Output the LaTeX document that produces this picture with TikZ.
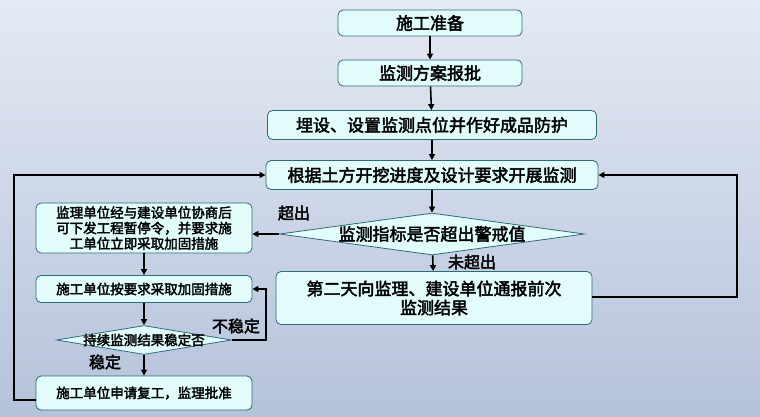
\documentclass[tikz,border=0pt]{standalone}
\usepackage{fontspec}
\setmainfont{Noto Sans CJK SC}[FakeBold=2.5]
\usetikzlibrary{shapes.geometric,arrows.meta}
\definecolor{boxFill}{HTML}{E2FBFB}
\definecolor{boxLine}{HTML}{2E6B78}
\definecolor{bgTop}{HTML}{E4EAF4}
\definecolor{bgBot}{HTML}{B4C2DA}
\begin{document}
\begin{tikzpicture}[x=1pt, y=-1pt,
  boxStyle/.style={rectangle, rounded corners=5pt, draw=boxLine, fill=boxFill, line width=0.8pt, inner sep=1pt, font=\fontsize{17}{19}\selectfont},
  smallStyle/.style={boxStyle, font=\fontsize{13.5}{15.5}\selectfont},
  decStyle/.style={diamond, aspect=7, draw=boxLine, fill=boxFill, line width=0.8pt, inner sep=0pt},
  lineStyle/.style={line width=1.6pt, -{Triangle[length=6pt,width=6pt]}},
  labelStyle/.style={font=\fontsize{16}{18}\selectfont}]
\shade[top color=bgTop, bottom color=bgBot] (0,0) rectangle (760,416);
\useasboundingbox (0,0) rectangle (760,416);
\node[boxStyle, minimum width=184pt, minimum height=26pt] (prep) at (430,23) {施工准备};
\node[boxStyle, minimum width=184pt, minimum height=26pt] (plan) at (430,73) {监测方案报批};
\node[boxStyle, minimum width=329pt, minimum height=29pt] (bury) at (432,125) {埋设、设置监测点位并作好成品防护};
\node[boxStyle, minimum width=332pt, minimum height=29pt] (monitor) at (432,175) {根据土方开挖进度及设计要求开展监测};
\node[decStyle, minimum width=305pt, minimum height=42pt] (check) at (432,234) {};
\node[font=\fontsize{17}{19}\selectfont] at (check) {监测指标是否超出警戒值};
\node[boxStyle, minimum width=316pt, minimum height=53pt, align=center] (report) at (434,298) {第二天向监理、建设单位通报前次\\监测结果};
\node[smallStyle, minimum width=216pt, minimum height=50pt, align=center] (stop) at (144,228) {监理单位经与建设单位协商后\\可下发工程暂停令，并要求施\\工单位立即采取加固措施};
\node[smallStyle, minimum width=216pt, minimum height=27pt] (fix) at (144,289) {施工单位按要求采取加固措施};
\node[decStyle, minimum width=175pt, minimum height=29pt] (stable) at (144,340) {};
\node[font=\fontsize{13.5}{15.5}\selectfont] at (stable) {持续监测结果稳定否};
\node[smallStyle, minimum width=216pt, minimum height=34pt] (resume) at (144,393) {施工单位申请复工，监理批准};
\coordinate (leftTop) at (14,175);
\coordinate (leftBot) at (14,400);
\coordinate (rightTop) at (737,175);
\coordinate (rightBot) at (737,297);
\coordinate (backTurn) at (266,340);
\coordinate (backTop) at (266,289);
\draw[lineStyle] (prep) -- (plan);
\draw[lineStyle] (plan) -- (bury);
\draw[lineStyle] (bury) -- (monitor);
\draw[lineStyle] (monitor) -- (check);
\draw[lineStyle] (check) -- (report);
\draw[lineStyle] (check.west) -- (stop.east |- check.west);
\draw[lineStyle] (stop) -- (fix);
\draw[lineStyle] (fix) -- (stable);
\draw[lineStyle] (stable) -- (resume);
\draw[lineStyle] (stable.east) -- (backTurn) -- (backTop) -- (fix.east);
\draw[lineStyle] (resume.west |- leftBot) -- (leftBot) -- (leftTop) -- (monitor.west);
\draw[lineStyle] (report.east |- rightBot) -- (rightBot) -- (rightTop) -- (monitor.east);
\node[labelStyle] (over) at (294,213) {超出};
\node[labelStyle] (notOver) at (472,262) {未超出};
\node[labelStyle] (unstable) at (236,326) {不稳定};
\node[labelStyle] (steady) at (105,362) {稳定};
\end{tikzpicture}
\end{document}
